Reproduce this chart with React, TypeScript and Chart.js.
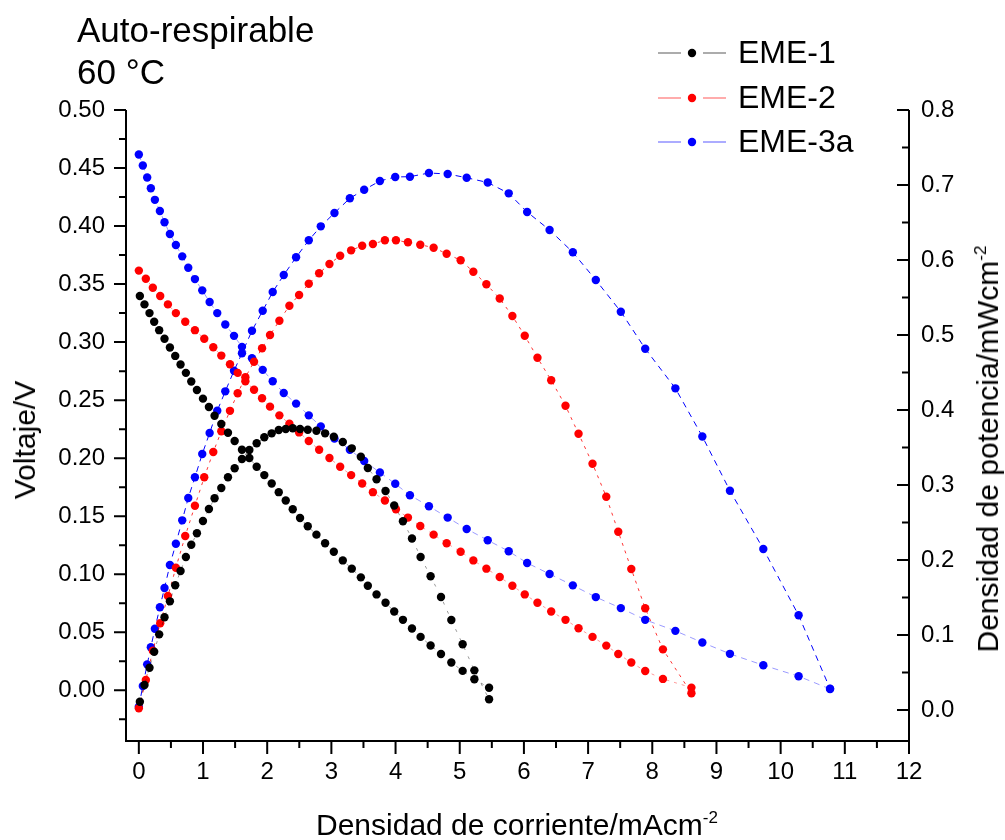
import React, { useEffect, useRef } from "react";
import { Chart, registerables } from "chart.js";

Chart.register(...registerables);

const FONT = '"Liberation Sans", Arial, Helvetica, sans-serif';
const W = 1005;
const H = 840;

// ---------- data ----------
const seriesNames = ["EME-1", "EME-2", "EME-3a"];
const seriesColors = ["#000000", "#ff0000", "#0000ff"];

// EME-1
const eme1Current = [0.016, 0.088, 0.166, 0.239, 0.317, 0.40, 0.484, 0.567, 0.65, 0.733, 0.817, 0.905, 0.999, 1.092, 1.18, 1.285, 1.389, 1.493, 1.607, 1.722, 1.836, 1.955, 2.07, 2.18, 2.289, 2.398, 2.512, 2.632, 2.767, 2.902, 3.038, 3.178, 3.318, 3.459, 3.568, 3.704, 3.844, 3.979, 4.115, 4.256, 4.39, 4.546, 4.708, 4.869, 5.045, 5.228, 5.457];
const eme1Voltage = [0.3397, 0.3325, 0.325, 0.3175, 0.3103, 0.3029, 0.2953, 0.2881, 0.2807, 0.2735, 0.266, 0.2588, 0.2513, 0.2441, 0.2366, 0.2294, 0.2219, 0.2148, 0.2073, 0.2001, 0.1926, 0.1854, 0.1782, 0.1707, 0.1635, 0.156, 0.1485, 0.1413, 0.1341, 0.1267, 0.1194, 0.1119, 0.1048, 0.0973, 0.0901, 0.0826, 0.0754, 0.0679, 0.0607, 0.0533, 0.046, 0.0386, 0.0313, 0.0239, 0.0167, 0.0095, 0.0022];
const eme1Power = [0.0111, 0.0333, 0.0564, 0.0777, 0.1009, 0.1236, 0.1449, 0.1663, 0.1853, 0.204, 0.2204, 0.2356, 0.252, 0.268, 0.2823, 0.296, 0.3103, 0.3223, 0.3347, 0.3467, 0.3556, 0.3636, 0.3689, 0.3733, 0.3747, 0.3756, 0.3747, 0.3737, 0.3724, 0.3689, 0.3644, 0.3573, 0.3489, 0.3377, 0.3227, 0.3076, 0.292, 0.2727, 0.2517, 0.2287, 0.204, 0.1783, 0.1507, 0.12, 0.0877, 0.0529, 0.0143];

// EME-2
const eme2Current = [0, 0.109, 0.218, 0.333, 0.453, 0.577, 0.723, 0.874, 1.019, 1.16, 1.285, 1.42, 1.54, 1.66, 1.795, 1.92, 2.044, 2.19, 2.346, 2.497, 2.648, 2.809, 2.97, 3.137, 3.308, 3.48, 3.647, 3.834, 4.006, 4.193, 4.385, 4.593, 4.796, 5.014, 5.212, 5.415, 5.623, 5.82, 6.013, 6.211, 6.425, 6.648, 6.851, 7.069, 7.283, 7.47, 7.673, 7.89, 8.166, 8.61];
const eme2Voltage = [0.3616, 0.3546, 0.3469, 0.3397, 0.3325, 0.325, 0.3175, 0.3103, 0.3029, 0.2956, 0.2884, 0.2809, 0.2735, 0.2662, 0.259, 0.2516, 0.2444, 0.2369, 0.2297, 0.2222, 0.2148, 0.2073, 0.2001, 0.1926, 0.1854, 0.1782, 0.1707, 0.1635, 0.156, 0.1488, 0.1416, 0.1341, 0.1267, 0.1194, 0.1119, 0.1048, 0.0976, 0.0901, 0.0826, 0.0754, 0.0679, 0.0607, 0.0535, 0.046, 0.0385, 0.0313, 0.0239, 0.0166, 0.0098, 0.0023];
const eme2Power = [0.0023, 0.04, 0.0791, 0.1156, 0.152, 0.1897, 0.232, 0.2724, 0.3103, 0.344, 0.3716, 0.3989, 0.4223, 0.4436, 0.4644, 0.4823, 0.5, 0.5191, 0.5391, 0.5533, 0.5684, 0.5823, 0.5947, 0.6057, 0.6129, 0.6191, 0.6213, 0.6263, 0.6263, 0.6236, 0.6204, 0.6164, 0.6084, 0.5996, 0.5844, 0.5676, 0.5487, 0.5253, 0.4991, 0.4697, 0.4396, 0.4057, 0.3684, 0.3284, 0.2844, 0.2377, 0.188, 0.1356, 0.0809, 0.0223];

// EME-3a
const eme3Current = [0, 0.062, 0.13, 0.187, 0.25, 0.328, 0.40, 0.484, 0.577, 0.676, 0.77, 0.874, 0.988, 1.103, 1.222, 1.347, 1.483, 1.607, 1.763, 1.93, 2.086, 2.258, 2.45, 2.648, 2.835, 3.048, 3.288, 3.511, 3.756, 3.995, 4.224, 4.52, 4.812, 5.108, 5.436, 5.763, 6.05, 6.4, 6.762, 7.12, 7.51, 7.89, 8.36, 8.78, 9.21, 9.73, 10.28, 10.77];
const eme3Voltage = [0.4617, 0.4522, 0.4419, 0.4326, 0.4226, 0.413, 0.4033, 0.3932, 0.3837, 0.3739, 0.3641, 0.3543, 0.3446, 0.3345, 0.325, 0.3152, 0.3054, 0.2959, 0.2861, 0.2761, 0.2663, 0.2562, 0.247, 0.2369, 0.2274, 0.217, 0.2073, 0.1975, 0.1877, 0.1779, 0.1681, 0.1586, 0.1488, 0.139, 0.1293, 0.1198, 0.1097, 0.1002, 0.0904, 0.0803, 0.0708, 0.0607, 0.0512, 0.0412, 0.0314, 0.0216, 0.0121, 0.0011];
const eme3Power = [0.0044, 0.032, 0.0609, 0.0836, 0.1084, 0.137, 0.1627, 0.1933, 0.2217, 0.2529, 0.2827, 0.3103, 0.3413, 0.3693, 0.3991, 0.4249, 0.4524, 0.4756, 0.5057, 0.5324, 0.5573, 0.58, 0.6036, 0.6263, 0.6449, 0.6627, 0.6823, 0.6937, 0.7053, 0.7107, 0.7111, 0.716, 0.7147, 0.7097, 0.7033, 0.6889, 0.664, 0.64, 0.6103, 0.5733, 0.5311, 0.4817, 0.4289, 0.3647, 0.2924, 0.2147, 0.1263, 0.0284];

// ---------- axes ----------
const xTickValues = [0, 1, 2, 3, 4, 5, 6, 7, 8, 9, 10, 11, 12];
const voltageTickValues = [0, 0.05, 0.1, 0.15, 0.2, 0.25, 0.3, 0.35, 0.4, 0.45, 0.5];
const powerTickValues = [0, 0.1, 0.2, 0.3, 0.4, 0.5, 0.6, 0.7, 0.8];

const X_MIN = -0.2;
const X_MAX = 12;
const V_MIN = -0.0437;
const V_MAX = 0.5;
const P_MIN = -0.0413;
const P_MAX = 0.8;

const frame = { left: 126, right: 96, top: 110, bottom: 99 };

const currents = [eme1Current, eme2Current, eme3Current];
const voltages = [eme1Voltage, eme2Voltage, eme3Voltage];
const powers = [eme1Power, eme2Power, eme3Power];
const lineDashes = [[3, 7], [3, 5], [6, 5]];
const lineWidths = [0.4, 0.8, 1];

const axesPlugin = {
  id: "originAxes",
  afterDraw(chart: any) {
    const { ctx, chartArea: a, scales } = chart;
    const xs = scales.x;
    const ys = scales.y;
    const ps = scales.y1;
    ctx.save();
    ctx.strokeStyle = "#000";
    ctx.lineWidth = 2;
    ctx.lineCap = "butt";
    ctx.beginPath();
    ctx.moveTo(a.left, a.top);
    ctx.lineTo(a.left, a.bottom + 1);
    ctx.moveTo(a.left - 1, a.bottom);
    ctx.lineTo(a.right + 1, a.bottom);
    ctx.moveTo(a.right, a.top);
    ctx.lineTo(a.right, a.bottom + 1);
    voltageTickValues.forEach((v) => {
      const y = ys.getPixelForValue(v);
      ctx.moveTo(a.left - 12, y);
      ctx.lineTo(a.left, y);
    });
    voltageTickValues
      .map((v) => v - 0.025)
      .filter((v) => v >= V_MIN)
      .forEach((v) => {
        const y = ys.getPixelForValue(v);
        ctx.moveTo(a.left - 7, y);
        ctx.lineTo(a.left, y);
      });
    xTickValues.forEach((v) => {
      const x = xs.getPixelForValue(v);
      ctx.moveTo(x, a.bottom);
      ctx.lineTo(x, a.bottom + 13);
    });
    xTickValues
      .map((v) => v + 0.5)
      .filter((v) => v <= X_MAX)
      .forEach((v) => {
        const x = xs.getPixelForValue(v);
        ctx.moveTo(x, a.bottom);
        ctx.lineTo(x, a.bottom + 7);
      });
    powerTickValues.forEach((v) => {
      const y = ps.getPixelForValue(v);
      ctx.moveTo(a.right - 12, y);
      ctx.lineTo(a.right, y);
    });
    powerTickValues
      .map((v) => v - 0.05)
      .filter((v) => v >= P_MIN)
      .forEach((v) => {
        const y = ps.getPixelForValue(v);
        ctx.moveTo(a.right - 7, y);
        ctx.lineTo(a.right, y);
      });
    ctx.stroke();
    ctx.restore();
  },
};

function ChartCanvas() {
  const ref = useRef<HTMLCanvasElement | null>(null);
  useEffect(() => {
    if (!ref.current) return;
    const datasets: any[] = [];
    for (let s = 0; s < 3; s++) {
      const color = seriesColors[s];
      const common = {
        borderColor: color,
        backgroundColor: color,
        pointBackgroundColor: color,
        pointBorderWidth: 0,
        pointRadius: 4.2,
        borderWidth: lineWidths[s],
        borderDash: lineDashes[s],
        tension: 0,
        fill: false,
      };
      datasets.push({
        ...common,
        label: seriesNames[s] + " V",
        yAxisID: "y",
        borderWidth: 0.4,
        data: currents[s].map((x, i) => ({ x, y: voltages[s][i] })),
      });
      datasets.push({
        ...common,
        label: seriesNames[s] + " P",
        yAxisID: "y1",
        data: currents[s].map((x, i) => ({ x, y: powers[s][i] })),
      });
    }
    const tickFont = { family: FONT, size: 24 };
    const chart = new Chart(ref.current, {
      type: "line",
      data: { datasets },
      options: {
        responsive: false,
        animation: false,
        devicePixelRatio: 1,
        layout: { padding: { left: 0, right: 0, top: frame.top, bottom: 0 } },
        plugins: {
          legend: { display: false },
          tooltip: { enabled: false },
          title: { display: false },
        },
        scales: {
          x: {
            type: "linear",
            position: "bottom",
            min: X_MIN,
            max: X_MAX,
            afterBuildTicks: (s: any) => {
              s.ticks = xTickValues.map((v) => ({ value: v }));
            },
            afterFit: (s: any) => {
              s.height = frame.bottom;
            },
            grid: { display: false, drawTicks: false },
            border: { display: false },
            ticks: {
              autoSkip: false,
              maxRotation: 0,
              padding: 17,
              color: "#000",
              font: tickFont,
              callback: (v: any) => String(v),
            },
          },
          y: {
            type: "linear",
            position: "left",
            min: V_MIN,
            max: V_MAX,
            afterBuildTicks: (s: any) => {
              s.ticks = voltageTickValues.map((v) => ({ value: v }));
            },
            afterFit: (s: any) => {
              s.width = frame.left;
            },
            grid: { display: false, drawTicks: false },
            border: { display: false },
            ticks: {
              autoSkip: false,
              padding: 21,
              color: "#000",
              font: tickFont,
              callback: (v: any) => Number(v).toFixed(2),
            },
          },
          y1: {
            type: "linear",
            position: "right",
            min: P_MIN,
            max: P_MAX,
            afterBuildTicks: (s: any) => {
              s.ticks = powerTickValues.map((v) => ({ value: v }));
            },
            afterFit: (s: any) => {
              s.width = frame.right;
            },
            grid: { display: false, drawTicks: false },
            border: { display: false },
            ticks: {
              autoSkip: false,
              padding: 12,
              color: "#000",
              font: tickFont,
              callback: (v: any) => Number(v).toFixed(1),
            },
          },
        },
      },
      plugins: [axesPlugin],
    } as any);
    return () => chart.destroy();
  }, []);
  return (
    <canvas
      ref={ref}
      width={W}
      height={H}
      style={{ position: "absolute", left: 0, top: 0, display: "block" }}
    />
  );
}

const legendRows = [52, 96.5, 141];

export default function App() {
  const text: React.CSSProperties = {
    position: "absolute",
    fontFamily: FONT,
    color: "#000",
    whiteSpace: "nowrap",
  };
  return (
    <div style={{ position: "absolute", left: 0, top: 0, width: W, height: H, background: "#fff", overflow: "hidden" }}>
      <ChartCanvas />
      <div style={{ ...text, left: 77, top: 8.6, fontSize: 35, lineHeight: "42px" }}>
        Auto-respirable
        <br />
        60 °C
      </div>
      {seriesNames.map((name, i) => (
        <React.Fragment key={name}>
          <svg
            width={75}
            height={12}
            style={{ position: "absolute", left: 655, top: legendRows[i] + 1 - 6 }}
          >
            <line x1={3} y1={6} x2={26} y2={6} stroke={seriesColors[i]} strokeWidth={1} strokeOpacity={0.65} />
            <line x1={48} y1={6} x2={71} y2={6} stroke={seriesColors[i]} strokeWidth={1} strokeOpacity={0.65} />
            <circle cx={37} cy={6} r={4.2} fill={seriesColors[i]} />
          </svg>
          <div style={{ ...text, left: 738, top: legendRows[i] - 15.6, fontSize: 32, lineHeight: 1 }}>{name}</div>
        </React.Fragment>
      ))}
      <div style={{ ...text, left: 316, top: 810, fontSize: 30, lineHeight: 1 }}>
        Densidad de corriente/mAcm
        <span style={{ fontSize: 17, position: "relative", top: -12 }}>-2</span>
      </div>
      <div
        style={{
          ...text,
          left: 25,
          top: 440,
          fontSize: 30,
          lineHeight: 1,
          transform: "translate(-50%, -50%) rotate(-90deg)",
        }}
      >
        Voltaje/V
      </div>
      <div
        style={{
          ...text,
          left: 988,
          top: 449,
          fontSize: 30,
          lineHeight: 1,
          transform: "translate(-50%, -50%) rotate(-90deg)",
        }}
      >
        Densidad de potencia/mWcm
        <span style={{ fontSize: 17, position: "relative", top: -12 }}>-2</span>
      </div>
    </div>
  );
}
